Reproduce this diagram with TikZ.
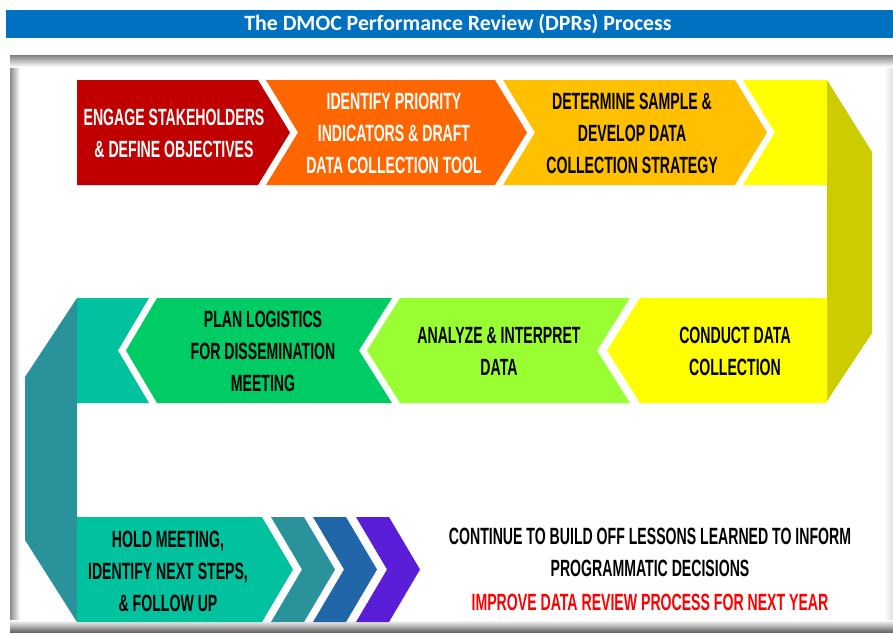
\documentclass[tikz,border=0pt]{standalone}
\usepackage{fontspec}
\newfontfamily\condfont{Liberation Sans}[FakeStretch=0.6]
\newfontfamily\titlefont{Carlito}

\definecolor{barblue}{RGB}{0,112,192}
\definecolor{cRed}{RGB}{192,0,0}
\definecolor{cOrange}{RGB}{255,102,0}
\definecolor{cGold}{RGB}{255,192,0}
\definecolor{cYellow}{RGB}{255,255,0}
\definecolor{cOlive}{RGB}{204,204,0}
\definecolor{cLime}{RGB}{153,255,51}
\definecolor{cGreen}{RGB}{0,204,102}
\definecolor{cMint}{RGB}{0,194,158}
\definecolor{cTeal}{RGB}{42,146,155}
\definecolor{cBlue}{RGB}{32,102,168}
\definecolor{cPurple}{RGB}{90,30,216}
\definecolor{cNote}{RGB}{255,0,0}

\tikzset{
  steplabel/.style={font=\condfont\bfseries\fontsize{23.5}{32}\selectfont,
    align=center, inner sep=0pt},
  whitelabel/.style={steplabel, text=white},
  blacklabel/.style={steplabel, text=black},
  titlelabel/.style={font=\titlefont\bfseries\fontsize{21.8}{24}\selectfont,
    text=white, inner sep=0pt},
}

\begin{document}
\begin{tikzpicture}[x=1pt,y=-1pt]
\useasboundingbox (0,0) rectangle (893,633);
\fill[white] (0,0) rectangle (893,633);

% heading bar
\fill[barblue] (6,10) rectangle (893,38);
\node[titlelabel] (title) at (458,24) {The DMOC Performance Review (DPRs) Process};

% framed panel with soft inner shadow
\fill[white] (10,55) rectangle (893,632);
\shade[left color=black!45, right color=white] (10,55) rectangle (20,632);
\shade[left color=white, right color=black!12] (884,55) rectangle (893,632);
\shade[top color=black!50, bottom color=white] (10,55) rectangle (893,67);
\shade[top color=white, bottom color=black!60] (10,620) rectangle (893,632);

% row 1 (left to right)
\fill[cRed] (77,80) -- (258,80) -- (290,132.5) -- (258,185) -- (77,185) -- cycle;
\fill[cOrange] (266,80) -- (495,80) -- (527,132.5) -- (495,185) -- (266,185) -- (298,132.5) -- cycle;
\fill[cGold] (503,80) -- (735,80) -- (767,132.5) -- (735,185) -- (503,185) -- (535,132.5) -- cycle;
\fill[cYellow] (743,80) -- (827,80) -- (827,185) -- (743,185) -- (775,132.5) -- cycle;

% right-hand fold
\fill[cOlive] (827,80) -- (872,152) -- (872,333) -- (827,401) -- cycle;

% row 2 (right to left)
\fill[cYellow] (827,298) -- (827,403) -- (640,403) -- (607,350.5) -- (640,298) -- cycle;
\fill[cLime] (630,298) -- (597,350.5) -- (630,403) -- (400,403) -- (367,350.5) -- (400,298) -- cycle;
\fill[cGreen] (392,298) -- (359,350.5) -- (392,403) -- (157,403) -- (126,350.5) -- (157,298) -- cycle;
\fill[cMint] (77,298) -- (149,298) -- (118,350.5) -- (149,403) -- (77,403) -- cycle;

% left-hand fold
\fill[cTeal] (77,298) -- (25,377) -- (25,540) -- (77,622) -- cycle;

% row 3 (left to right)
\fill[cMint] (77,517) -- (262,517) -- (293,569.5) -- (262,622) -- (77,622) -- cycle;
\fill[cTeal] (271,517) -- (304,517) -- (335,569.5) -- (304,622) -- (271,622) -- (302,569.5) -- cycle;
\fill[cBlue] (313,517) -- (346,517) -- (377,569.5) -- (346,622) -- (313,622) -- (344,569.5) -- cycle;
\fill[cPurple] (356,517) -- (389,517) -- (420,569.5) -- (389,622) -- (356,622) -- (387,569.5) -- cycle;

% step texts
\node[whitelabel] (engage) at (174,133) {ENGAGE STAKEHOLDERS\\\& DEFINE OBJECTIVES};
\node[whitelabel] (identify) at (394,133) {IDENTIFY PRIORITY\\INDICATORS \& DRAFT\\DATA COLLECTION TOOL};
\node[blacklabel] (sample) at (632,133) {DETERMINE SAMPLE \&\\DEVELOP DATA\\COLLECTION STRATEGY};
\node[blacklabel] (conduct) at (735,351) {CONDUCT DATA\\COLLECTION};
\node[blacklabel] (analyze) at (499,351) {ANALYZE \& INTERPRET\\DATA};
\node[blacklabel] (logistics) at (263,351) {PLAN LOGISTICS\\FOR DISSEMINATION\\MEETING};
\node[blacklabel] (meeting) at (168,571) {HOLD MEETING,\\IDENTIFY NEXT STEPS,\\\& FOLLOW UP};

% closing notes
\node[blacklabel] (continue) at (650,552) {CONTINUE TO BUILD OFF LESSONS LEARNED TO INFORM\\PROGRAMMATIC DECISIONS};
\node[steplabel, text=cNote] (improve) at (650,602) {IMPROVE DATA REVIEW PROCESS FOR NEXT YEAR};
\end{tikzpicture}
\end{document}
